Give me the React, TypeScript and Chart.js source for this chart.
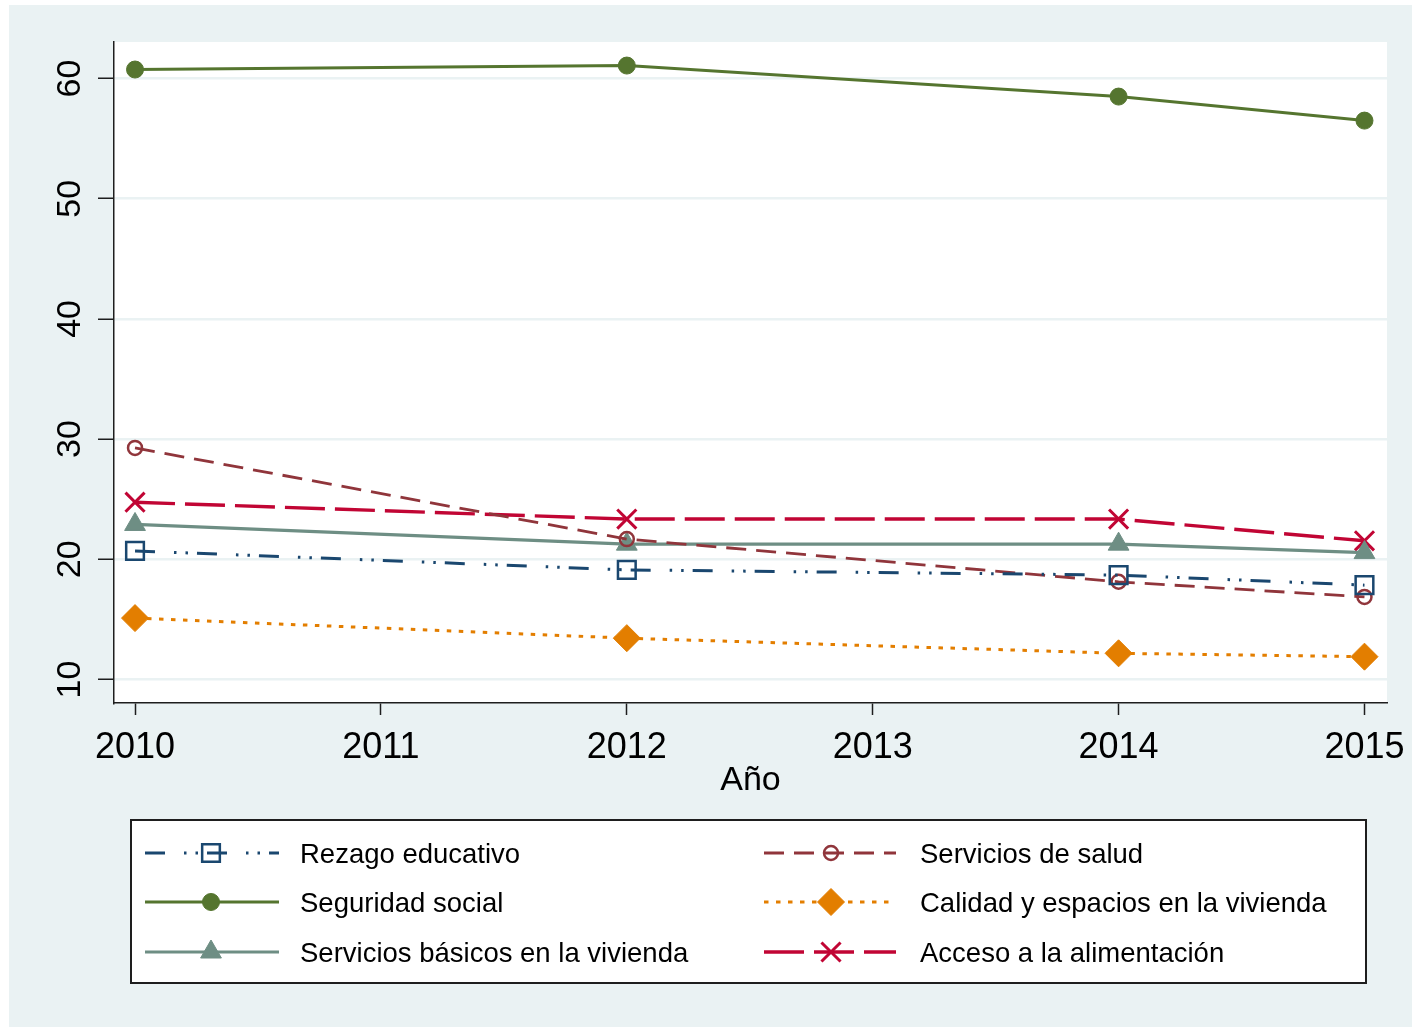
import React, { useEffect, useRef } from 'react';
import { Chart, registerables } from 'chart.js';

Chart.register(...registerables);

const years = [2010, 2012, 2014, 2015];
const rezago = [20.7, 19.12, 18.69, 17.85];
const seguridad = [60.75, 61.08, 58.5, 56.5];
const basicos = [22.9, 21.26, 21.26, 20.56];
const salud = [29.27, 21.68, 18.13, 16.87];
const calidad = [15.11, 13.44, 12.18, 11.9];
const acceso = [24.75, 23.35, 23.35, 21.54];

const xTicks = [2010, 2011, 2012, 2013, 2014, 2015];
const yTicks = [10, 20, 30, 40, 50, 60];
const xTitle = 'Año';

const FONT = "'Liberation Sans', Arial, Helvetica, sans-serif";
const BG = '#EAF2F3';
const AXIS = '#1e1e1e';

type Series = {
  label: string;
  data: number[];
  color: string;
  dash: number[];
  width: number;
  point: string;
  radius: number;
  filled: boolean;
  pointWidth: number;
  col: number;
  row: number;
};

const series: Series[] = [
  { label: 'Rezago educativo', data: rezago, color: '#1A476F', dash: [20, 19, 2.5, 9, 2.5, 9], width: 3, point: 'rect', radius: 12.5, filled: false, pointWidth: 2.5, col: 0, row: 0 },
  { label: 'Servicios de salud', data: salud, color: '#90353B', dash: [20, 10], width: 2.8, point: 'circle', radius: 7, filled: false, pointWidth: 2.5, col: 1, row: 0 },
  { label: 'Seguridad social', data: seguridad, color: '#55752F', dash: [], width: 3, point: 'circle', radius: 8.5, filled: true, pointWidth: 1, col: 0, row: 1 },
  { label: 'Calidad y espacios en la vivienda', data: calidad, color: '#E37E00', dash: [4.5, 7.5], width: 3, point: 'rectRot', radius: 13.5, filled: true, pointWidth: 1, col: 1, row: 1 },
  { label: 'Servicios básicos en la vivienda', data: basicos, color: '#6E8E84', dash: [], width: 3.2, point: 'triangle', radius: 12, filled: true, pointWidth: 1, col: 0, row: 2 },
  { label: 'Acceso a la alimentación', data: acceso, color: '#C10534', dash: [40, 10], width: 3.4, point: 'crossRot', radius: 13.5, filled: false, pointWidth: 3, col: 1, row: 2 },
];

function drawMarker(ctx: CanvasRenderingContext2D, s: Series, x: number, y: number) {
  const r = s.radius;
  ctx.save();
  ctx.setLineDash([]);
  ctx.strokeStyle = s.color;
  ctx.fillStyle = s.color;
  ctx.lineWidth = s.pointWidth;
  ctx.beginPath();
  if (s.point === 'circle') {
    ctx.arc(x, y, r, 0, Math.PI * 2);
  } else if (s.point === 'rect') {
    const h = r * Math.SQRT1_2;
    ctx.rect(x - h, y - h, 2 * h, 2 * h);
  } else if (s.point === 'rectRot') {
    ctx.moveTo(x, y - r);
    ctx.lineTo(x + r, y);
    ctx.lineTo(x, y + r);
    ctx.lineTo(x - r, y);
    ctx.closePath();
  } else if (s.point === 'triangle') {
    let a = 0;
    ctx.moveTo(x + Math.sin(a) * r, y - Math.cos(a) * r);
    a += (2 * Math.PI) / 3;
    ctx.lineTo(x + Math.sin(a) * r, y - Math.cos(a) * r);
    a += (2 * Math.PI) / 3;
    ctx.lineTo(x + Math.sin(a) * r, y - Math.cos(a) * r);
    ctx.closePath();
  } else if (s.point === 'crossRot') {
    const h = r * Math.SQRT1_2;
    ctx.moveTo(x - h, y - h);
    ctx.lineTo(x + h, y + h);
    ctx.moveTo(x + h, y - h);
    ctx.lineTo(x - h, y + h);
  }
  if (s.filled) ctx.fill();
  ctx.stroke();
  ctx.restore();
}

const LEG = { x: 122, y: 815, w: 1235, h: 163 };
const LEG_ROWS = [848, 897, 947];
const LEG_COLS = [
  { x0: 136, x1: 270, mx: 202, tx: 291 },
  { x0: 755, x1: 887, mx: 822, tx: 911 },
];

const decorPlugin = {
  id: 'decor',
  beforeDraw(chart: any) {
    const { ctx, chartArea: a, width, height } = chart;
    ctx.save();
    ctx.fillStyle = BG;
    ctx.fillRect(0, 0, width, height);
    ctx.fillStyle = '#ffffff';
    ctx.fillRect(a.left, a.top, a.right - a.left, a.bottom - a.top);
    ctx.restore();
  },
  afterDraw(chart: any) {
    const { ctx } = chart;
    const yScale = chart.scales.y;
    // rotated y tick labels
    ctx.save();
    ctx.fillStyle = '#000';
    ctx.font = `34px ${FONT}`;
    ctx.textAlign = 'center';
    ctx.textBaseline = 'middle';
    yTicks.forEach((v) => {
      const py = yScale.getPixelForValue(v);
      ctx.save();
      ctx.translate(61.5, py);
      ctx.rotate(-Math.PI / 2);
      ctx.fillText(String(v), 0, 0);
      ctx.restore();
    });
    ctx.restore();

    // legend
    ctx.save();
    ctx.fillStyle = '#ffffff';
    ctx.fillRect(LEG.x, LEG.y, LEG.w, LEG.h);
    ctx.strokeStyle = AXIS;
    ctx.lineWidth = 2;
    ctx.strokeRect(LEG.x, LEG.y, LEG.w, LEG.h);
    series.forEach((s) => {
      const c = LEG_COLS[s.col];
      const y = LEG_ROWS[s.row];
      ctx.save();
      ctx.strokeStyle = s.color;
      ctx.lineWidth = s.width;
      ctx.setLineDash(s.dash);
      ctx.beginPath();
      ctx.moveTo(c.x0, y);
      ctx.lineTo(c.x1, y);
      ctx.stroke();
      ctx.restore();
      drawMarker(ctx, s, c.mx, y);
      ctx.fillStyle = '#000';
      ctx.font = `27.5px ${FONT}`;
      ctx.textAlign = 'left';
      ctx.textBaseline = 'middle';
      ctx.fillText(s.label, c.tx, y + 2);
    });
    ctx.restore();
  },
};

export default function App() {
  const ref = useRef<HTMLCanvasElement | null>(null);
  useEffect(() => {
    if (!ref.current) return;
    const chart = new Chart(ref.current, {
      type: 'line',
      data: {
        datasets: series.map((s) => ({
          label: s.label,
          data: years.map((yr, i) => ({ x: yr, y: s.data[i] })),
          borderColor: s.color,
          borderWidth: s.width,
          borderDash: s.dash,
          fill: false,
          tension: 0,
          pointStyle: s.point as any,
          pointRadius: s.radius,
          pointBackgroundColor: s.filled ? s.color : 'rgba(0,0,0,0)',
          pointBorderColor: s.color,
          pointBorderWidth: s.pointWidth,
          clip: false as any,
        })),
      },
      options: {
        animation: false,
        responsive: false,
        layout: { padding: { top: 37, right: 25, bottom: 224, left: 0 } },
        plugins: { legend: { display: false }, tooltip: { enabled: false } },
        scales: {
          x: {
            type: 'linear',
            min: 2009.9145,
            max: 2015.0916,
            afterBuildTicks: (s: any) => {
              s.ticks = xTicks.map((v) => ({ value: v }));
            },
            afterFit: (s: any) => {
              s.height = 100;
              s.paddingLeft = 0;
              s.paddingRight = 0;
            },
            ticks: {
              font: { family: FONT, size: 36 },
              color: '#000',
              padding: 11,
              maxRotation: 0,
              minRotation: 0,
              autoSkip: false,
              callback: (v: any) => String(v),
            },
            grid: {
              drawOnChartArea: false,
              drawTicks: true,
              tickLength: 12,
              tickColor: AXIS,
              tickWidth: 1.5,
            },
            border: { display: true, color: AXIS, width: 1.5 },
            title: {
              display: true,
              text: xTitle,
              font: { family: FONT, size: 34 },
              color: '#000',
              padding: { top: 0, bottom: 2 },
            },
          },
          y: {
            type: 'linear',
            min: 8.045,
            max: 63.04,
            afterBuildTicks: (s: any) => {
              s.ticks = yTicks.map((v) => ({ value: v }));
            },
            afterFit: (s: any) => {
              s.width = 105;
              s.paddingTop = 0;
              s.paddingBottom = 0;
            },
            ticks: { display: false },
            grid: {
              color: BG,
              lineWidth: 2.5,
              drawTicks: true,
              tickLength: 16,
              tickColor: AXIS,
              tickWidth: 1.5,
            },
            border: { display: true, color: AXIS, width: 1.5 },
          },
        },
      },
      plugins: [decorPlugin],
    });
    return () => chart.destroy();
  }, []);

  return (
    <div style={{ position: 'fixed', left: 9, top: 5, width: 1403, height: 1022 }}>
      <canvas ref={ref} width={1403} height={1022} style={{ display: 'block', width: 1403, height: 1022 }} />
    </div>
  );
}
